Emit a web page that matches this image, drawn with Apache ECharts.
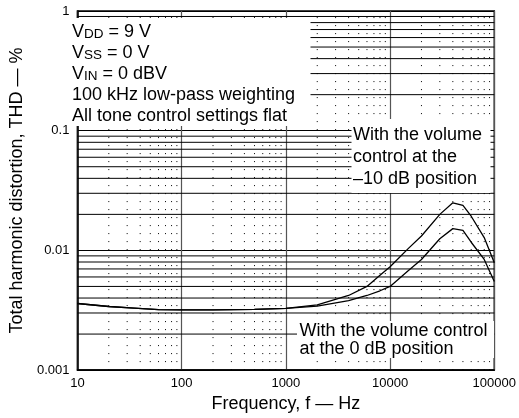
<!DOCTYPE html>
<html>
<head>
<meta charset="utf-8">
<script src="https://cdn.jsdelivr.net/npm/echarts@6/dist/echarts.min.js"></script>
<style>
  html, body { margin: 0; padding: 0; background: #fff; }
  #chart { width: 519px; height: 418px; }
</style>
</head>
<body>
<div id="chart"></div>
<script>
// ---- data ----
const freqHz = [10, 20, 35, 60, 100, 200, 500, 1000, 2000, 4000, 6000, 8000, 10000, 15000, 20000, 30000, 40000, 50000, 60000, 80000, 100000];
const thdVolMinus10dB = [0.0036, 0.0034, 0.0033, 0.0032, 0.00318, 0.00318, 0.00322, 0.00328, 0.0035, 0.0042, 0.0050, 0.0062, 0.0073, 0.0104, 0.0132, 0.0200, 0.0250, 0.0238, 0.0193, 0.0128, 0.0079];
const thdVol0dB = [0.0036, 0.0034, 0.0033, 0.0032, 0.00318, 0.00318, 0.00322, 0.00328, 0.00342, 0.0038, 0.0042, 0.0046, 0.0050, 0.0068, 0.0084, 0.0125, 0.0152, 0.0147, 0.0117, 0.0084, 0.0055];
const xTickLabels = ['10', '100', '1000', '10000', '100000'];
const yTickLabels = ['0.001', '0.01', '0.1', '1'];
const xAxisTitle = 'Frequency, f \u2014 Hz';
const yAxisTitle = 'Total harmonic distortion, THD \u2014 %';
const conditionNote = ['{m|V}{s|DD}{m| = 9 V}', '{m|V}{s|SS}{m| = 0 V}', '{m|V}{s|IN}{m| = 0 dBV}', '{m|100 kHz low-pass weighting}', '{m|All tone control settings flat}'];
const noteMinus10 = ['With the volume', 'control at the', '\u201310 dB position'];
const note0 = ['With the volume control', 'at the 0 dB position'];

// axis range and minor grid values (2..9 within each decade)
const xRange = [10, 100000];
const yRange = [0.001, 1];
const xMinor = [];
for (let e = 1; e < 5; e++) for (let k = 2; k <= 9; k++) xMinor.push(+(k * Math.pow(10, e)).toPrecision(3));
const yMinor = [];
for (let e = -3; e < 0; e++) for (let k = 2; k <= 9; k++) yMinor.push(+(k * Math.pow(10, e)).toPrecision(3));

const FONT = '"Liberation Sans", Arial, Helvetica, sans-serif';
const chart = echarts.init(document.getElementById('chart'), null, { renderer: 'canvas' });

function textEl(x, y, text) {
  return {
    type: 'text', x: x, y: y, z: 101, silent: true,
    style: {
      text: text, fill: '#000', verticalAlign: 'middle', align: 'left',
      fontSize: 18, fontFamily: FONT,
      rich: {
        m: { fontSize: 18, fontFamily: FONT, lineHeight: 21, verticalAlign: 'bottom', fill: '#000' },
        s: { fontSize: 13.5, fontFamily: FONT, lineHeight: 4, verticalAlign: 'bottom', fill: '#000' }
      }
    }
  };
}
function boxEl(x, y, w, h) {
  return { type: 'rect', z: 100, silent: true, shape: { x: x, y: y, width: w, height: h }, style: { fill: '#fff' } };
}

const graphics = [
  boxEl(70.5, 18, 240, 108),
  boxEl(351.5, 119, 139, 74),
  boxEl(297, 321, 197, 37)
];
conditionNote.forEach((t, i) => graphics.push(textEl(72, 30.5 + i * 21, t)));
noteMinus10.forEach((t, i) => graphics.push(textEl(353, 135.5 + i * 22, t)));
note0.forEach((t, i) => graphics.push(textEl(299.5, 330.8 + i * 18, t)));

const gridSeries = [];
yMinor.forEach(v => gridSeries.push({
  type: 'line', symbol: 'none', silent: true, z: 1, animation: false,
  lineStyle: { color: '#000', width: 1, type: 'solid' },
  data: [[xRange[0], v], [xRange[1], v]]
}));
xMinor.forEach(v => gridSeries.push({
  type: 'line', symbol: 'none', silent: true, z: 1, animation: false,
  lineStyle: { color: '#000', width: 1, type: [1, 7] },
  data: [[v, yRange[0]], [v, yRange[1]]]
}));

const option = {
  animation: false,
  backgroundColor: '#fff',
  grid: { left: 67, top: 11, width: 431, height: 360, show: true, borderColor: '#000', borderWidth: 1.5, backgroundColor: 'transparent' },
  xAxis: {
    type: 'log', logBase: 10, min: xRange[0], max: xRange[1],
    name: xAxisTitle, nameLocation: 'middle', nameGap: 23,
    nameTextStyle: { fontSize: 18, fontFamily: FONT, color: '#000' },
    axisLine: { show: true, lineStyle: { color: '#000', width: 1.5 } },
    axisTick: { show: false },
    axisLabel: { fontSize: 13, fontFamily: FONT, color: '#000', margin: 7,
      formatter: v => xTickLabels[Math.round(Math.log10(v)) - 1] },
    splitLine: { show: true, lineStyle: { color: '#555', width: 1.2, type: 'solid' } }
  },
  yAxis: {
    type: 'log', logBase: 10, min: yRange[0], max: yRange[1],
    name: yAxisTitle, nameLocation: 'middle', nameGap: 50, nameRotate: 90,
    nameTextStyle: { fontSize: 18, fontFamily: FONT, color: '#000' },
    axisLine: { show: true, lineStyle: { color: '#000', width: 1.5 } },
    axisTick: { show: false },
    axisLabel: { fontSize: 13, fontFamily: FONT, color: '#000', margin: 8,
      formatter: v => yTickLabels[Math.round(Math.log10(v)) + 3] },
    splitLine: { show: true, lineStyle: { color: '#000', width: 1.2, type: 'solid' } }
  },
  graphic: graphics,
  series: gridSeries.concat([
    {
      name: 'Volume control at \u221210 dB',
      type: 'line', symbol: 'none', smooth: false, z: 3,
      lineStyle: { color: '#000', width: 1.3 },
      data: freqHz.map((f, i) => [f, thdVolMinus10dB[i]])
    },
    {
      name: 'Volume control at 0 dB',
      type: 'line', symbol: 'none', smooth: false, z: 3,
      lineStyle: { color: '#000', width: 1.3 },
      data: freqHz.map((f, i) => [f, thdVol0dB[i]])
    }
  ])
};
chart.setOption(option);
</script>
</body>
</html>
